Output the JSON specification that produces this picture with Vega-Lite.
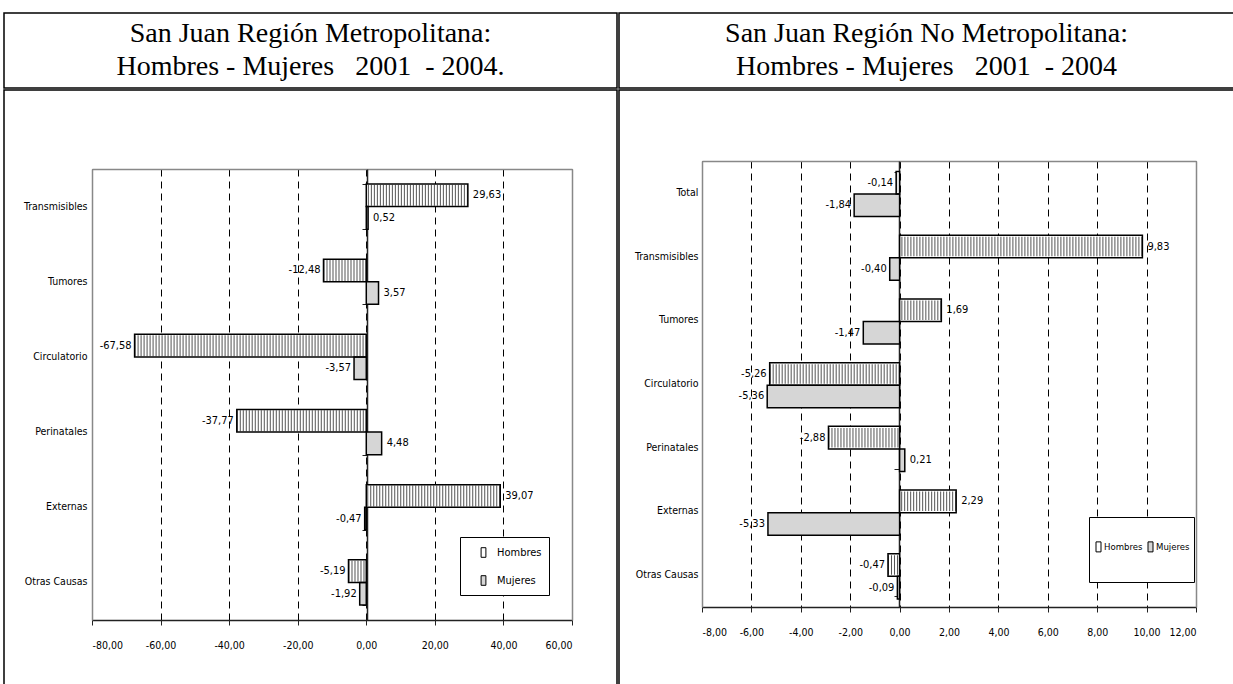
{
  "$schema": "https://vega.github.io/schema/vega-lite/v6.json",
  "padding": {"left": 3, "top": 12, "right": 0, "bottom": 0},
  "spacing": 0,
  "datasets": {
    "metro": [
      {"causa": "Transmisibles", "serie": "Hombres", "valor": 29.63},
      {"causa": "Transmisibles", "serie": "Mujeres", "valor": 0.52},
      {"causa": "Tumores", "serie": "Hombres", "valor": -12.48},
      {"causa": "Tumores", "serie": "Mujeres", "valor": 3.57},
      {"causa": "Circulatorio", "serie": "Hombres", "valor": -67.58},
      {"causa": "Circulatorio", "serie": "Mujeres", "valor": -3.57},
      {"causa": "Perinatales", "serie": "Hombres", "valor": -37.77},
      {"causa": "Perinatales", "serie": "Mujeres", "valor": 4.48},
      {"causa": "Externas", "serie": "Hombres", "valor": 39.07},
      {"causa": "Externas", "serie": "Mujeres", "valor": -0.47},
      {"causa": "Otras Causas", "serie": "Hombres", "valor": -5.19},
      {"causa": "Otras Causas", "serie": "Mujeres", "valor": -1.92}
    ],
    "nometro": [
      {"causa": "Total", "serie": "Hombres", "valor": -0.14},
      {"causa": "Total", "serie": "Mujeres", "valor": -1.84},
      {"causa": "Transmisibles", "serie": "Hombres", "valor": 9.83},
      {"causa": "Transmisibles", "serie": "Mujeres", "valor": -0.40},
      {"causa": "Tumores", "serie": "Hombres", "valor": 1.69},
      {"causa": "Tumores", "serie": "Mujeres", "valor": -1.47},
      {"causa": "Circulatorio", "serie": "Hombres", "valor": -5.26},
      {"causa": "Circulatorio", "serie": "Mujeres", "valor": -5.36},
      {"causa": "Perinatales", "serie": "Hombres", "valor": -2.88},
      {"causa": "Perinatales", "serie": "Mujeres", "valor": 0.21},
      {"causa": "Externas", "serie": "Hombres", "valor": 2.29},
      {"causa": "Externas", "serie": "Mujeres", "valor": -5.33},
      {"causa": "Otras Causas", "serie": "Hombres", "valor": -0.47},
      {"causa": "Otras Causas", "serie": "Mujeres", "valor": -0.09}
    ]
  },
  "resolve": {"scale": {"fill": "independent"}, "legend": {"fill": "independent"}},
  "vconcat": [
    {
      "spacing": 0,
      "hconcat": [
        {
          "width": 613, "height": 75,
          "data": {"values": [
            {"linea": 1, "texto": "San Juan Región Metropolitana:"},
            {"linea": 2, "texto": "Hombres - Mujeres\u00a0\u00a0\u00a02001\u00a0\u00a0- 2004."}
          ]},
          "mark": {"type": "text", "font": "Liberation Serif", "fontSize": 28, "baseline": "middle", "align": "center", "color": "black"},
          "encoding": {
            "y": {"field": "linea", "type": "ordinal", "axis": null, "scale": {"type": "point", "padding": 0.636}},
            "text": {"field": "texto", "type": "nominal"}
          }
        },
        {
          "width": 615, "height": 75,
          "data": {"values": [
            {"linea": 1, "texto": "San Juan Región No Metropolitana:"},
            {"linea": 2, "texto": "Hombres - Mujeres\u00a0\u00a0\u00a02001\u00a0\u00a0- 2004"}
          ]},
          "mark": {"type": "text", "font": "Liberation Serif", "fontSize": 28, "baseline": "middle", "align": "center", "color": "black"},
          "encoding": {
            "y": {"field": "linea", "type": "ordinal", "axis": null, "scale": {"type": "point", "padding": 0.636}},
            "text": {"field": "texto", "type": "nominal"}
          }
        }
      ]
    },
    {
      "spacing": 0,
      "resolve": {"scale": {"fill": "independent"}, "legend": {"fill": "independent"}},
      "hconcat": [
        {
          "width": 613, "height": 596,
          "data": {"name": "metro"},
          "resolve": {"axis": {"x": "independent", "y": "independent"}},
          "layer": [
            {
              "mark": {"type": "bar", "strokeWidth": 0},
              "encoding": {
                "y": {"field": "causa", "type": "nominal",
                  "scale": {"domain": ["Transmisibles", "Tumores", "Circulatorio", "Perinatales", "Externas", "Otras Causas"], "range": [79, 530], "paddingInner": 0.4, "paddingOuter": 0.2},
                  "axis": {"orient": "left", "offset": -88, "title": null, "ticks": false, "labelPadding": 5, "domainColor": "#888888", "domainWidth": 1.5, "grid": false}},
                "yOffset": {"field": "serie", "type": "nominal", "scale": {"domain": ["Hombres", "Mujeres"], "paddingInner": 0, "paddingOuter": 0}},
                "x": {"field": "valor", "type": "quantitative", "stack": null,
                  "scale": {"domain": [-80, 60], "range": [88, 568], "nice": false, "zero": false},
                  "axis": {"orient": "bottom", "offset": -66, "title": null, "values": [-80, -60, -40, -20, 0, 20, 40, 60], "format": ".2f", "grid": false, "domainColor": "#222222", "domainWidth": 1.5, "tickColor": "#222222", "tickSize": 5, "labelPadding": 15}},
                "fill": {"field": "serie", "type": "nominal",
                  "scale": {"domain": ["Hombres", "Mujeres"], "range": ["white", "#d6d6d6"]},
                  "legend": {"orient": "none", "legendX": 456, "legendY": 447, "direction": "vertical", "title": null, "padding": 7, "rowPadding": 12, "symbolOffset": 8, "labelOffset": 5}}
              }
            },
            {
              "transform": [{"filter": "datum.serie === 'Hombres'"}],
              "mark": {"type": "rule", "strokeDash": [1, 2], "strokeWidth": 21, "color": "#555555"},
              "encoding": {
                "y": {"field": "causa", "type": "nominal", "axis": null},
                "yOffset": {"field": "serie", "type": "nominal"},
                "x": {"field": "valor", "type": "quantitative", "axis": null},
                "x2": {"datum": 0}
              }
            },
            {
              "mark": {"type": "bar", "fill": "transparent", "stroke": "black", "strokeWidth": 1.5},
              "encoding": {
                "y": {"field": "causa", "type": "nominal",
                  "axis": {"orient": "left", "offset": -363, "title": null, "labels": false, "ticks": true, "tickBand": "extent", "tickSize": 5, "tickColor": "#222222", "domainColor": "#222222", "domainWidth": 1.5, "grid": false}},
                "yOffset": {"field": "serie", "type": "nominal"},
                "x": {"field": "valor", "type": "quantitative", "stack": null,
                  "axis": {"orient": "top", "offset": -79, "title": null, "values": [-80, -60, -40, -20, 0, 20, 40, 60], "ticks": false, "labels": false, "domainColor": "#888888", "domainWidth": 1.5, "grid": true, "gridDash": [7, 5], "gridColor": "black", "gridWidth": 1}}
              }
            },
            {
              "transform": [{"filter": "datum.valor >= 0"}],
              "mark": {"type": "text", "align": "left", "baseline": "middle", "dx": 5, "font": "DejaVu Sans Condensed, Liberation Sans, sans-serif", "fontSize": 11, "color": "black"},
              "encoding": {
                "y": {"field": "causa", "type": "nominal",
                  "axis": {"orient": "right", "offset": -45, "title": null, "ticks": false, "labels": false, "domainColor": "#888888", "domainWidth": 1.5, "grid": false}},
                "yOffset": {"field": "serie", "type": "nominal"},
                "x": {"field": "valor", "type": "quantitative", "axis": null},
                "text": {"field": "valor", "type": "quantitative", "format": ".2f"}
              }
            },
            {
              "transform": [{"filter": "datum.valor < 0"}],
              "mark": {"type": "text", "align": "right", "baseline": "middle", "dx": -3, "font": "DejaVu Sans Condensed, Liberation Sans, sans-serif", "fontSize": 11, "color": "black"},
              "encoding": {
                "y": {"field": "causa", "type": "nominal", "axis": null},
                "yOffset": {"field": "serie", "type": "nominal"},
                "x": {"field": "valor", "type": "quantitative", "axis": null},
                "text": {"field": "valor", "type": "quantitative", "format": ".2f"}
              }
            }
          ]
        },
        {
          "width": 615, "height": 596,
          "data": {"name": "nometro"},
          "resolve": {"axis": {"x": "independent", "y": "independent"}},
          "layer": [
            {
              "mark": {"type": "bar", "strokeWidth": 0},
              "encoding": {
                "y": {"field": "causa", "type": "nominal",
                  "scale": {"domain": ["Total", "Transmisibles", "Tumores", "Circulatorio", "Perinatales", "Externas", "Otras Causas"], "range": [71, 517], "paddingInner": 0.33, "paddingOuter": 0.165},
                  "axis": {"orient": "left", "offset": -83, "title": null, "ticks": false, "labelPadding": 4, "domainColor": "#888888", "domainWidth": 1.5, "grid": false}},
                "yOffset": {"field": "serie", "type": "nominal", "scale": {"domain": ["Hombres", "Mujeres"], "paddingInner": 0, "paddingOuter": 0}},
                "x": {"field": "valor", "type": "quantitative", "stack": null,
                  "scale": {"domain": [-8, 12], "range": [83, 577], "nice": false, "zero": false},
                  "axis": {"orient": "bottom", "offset": -79, "title": null, "values": [-8, -6, -4, -2, 0, 2, 4, 6, 8, 10, 12], "format": ".2f", "grid": false, "domainColor": "#222222", "domainWidth": 1.5, "tickColor": "#222222", "tickSize": 5, "labelPadding": 15}},
                "fill": {"field": "serie", "type": "nominal",
                  "scale": {"domain": ["Hombres", "Mujeres"], "range": ["white", "#d6d6d6"]},
                  "legend": {"orient": "none", "legendX": 470, "legendY": 427, "direction": "horizontal", "title": null, "padding": 4, "columnPadding": 2, "labelFontSize": 9.5,
                    "symbolType": "M-0.1,-0.2H0.1V0.2H-0.1ZM0,-1.15M0,1.15", "symbolSize": 2500, "symbolOffset": -20, "labelOffset": -20}}
              }
            },
            {
              "transform": [{"filter": "datum.serie === 'Hombres'"}],
              "mark": {"type": "rule", "strokeDash": [1, 2], "strokeWidth": 19.5, "color": "#555555"},
              "encoding": {
                "y": {"field": "causa", "type": "nominal", "axis": null},
                "yOffset": {"field": "serie", "type": "nominal"},
                "x": {"field": "valor", "type": "quantitative", "axis": null},
                "x2": {"datum": 0}
              }
            },
            {
              "mark": {"type": "bar", "fill": "transparent", "stroke": "black", "strokeWidth": 1.5},
              "encoding": {
                "y": {"field": "causa", "type": "nominal",
                  "axis": {"orient": "left", "offset": -280, "title": null, "labels": false, "ticks": true, "tickBand": "extent", "tickSize": 5, "tickColor": "#222222", "domainColor": "#222222", "domainWidth": 1.5, "grid": false}},
                "yOffset": {"field": "serie", "type": "nominal"},
                "x": {"field": "valor", "type": "quantitative", "stack": null,
                  "axis": {"orient": "top", "offset": -71, "title": null, "values": [-8, -6, -4, -2, 0, 2, 4, 6, 8, 10, 12], "ticks": false, "labels": false, "domainColor": "#888888", "domainWidth": 1.5, "grid": true, "gridDash": [7, 5], "gridColor": "black", "gridWidth": 1}}
              }
            },
            {
              "transform": [{"filter": "datum.valor >= 0"}],
              "mark": {"type": "text", "align": "left", "baseline": "middle", "dx": 5, "font": "DejaVu Sans Condensed, Liberation Sans, sans-serif", "fontSize": 11, "color": "black"},
              "encoding": {
                "y": {"field": "causa", "type": "nominal",
                  "axis": {"orient": "right", "offset": -38, "title": null, "ticks": false, "labels": false, "domainColor": "#888888", "domainWidth": 1.5, "grid": false}},
                "yOffset": {"field": "serie", "type": "nominal"},
                "x": {"field": "valor", "type": "quantitative", "axis": null},
                "text": {"field": "valor", "type": "quantitative", "format": ".2f"}
              }
            },
            {
              "transform": [{"filter": "datum.valor < 0"}],
              "mark": {"type": "text", "align": "right", "baseline": "middle", "dx": -3, "font": "DejaVu Sans Condensed, Liberation Sans, sans-serif", "fontSize": 11, "color": "black"},
              "encoding": {
                "y": {"field": "causa", "type": "nominal", "axis": null},
                "yOffset": {"field": "serie", "type": "nominal"},
                "x": {"field": "valor", "type": "quantitative", "axis": null},
                "text": {"field": "valor", "type": "quantitative", "format": ".2f"}
              }
            }
          ]
        }
      ]
    }
  ],
  "config": {
    "locale": {"number": {"decimal": ",", "thousands": ".", "grouping": [3], "currency": ["", " €"], "minus": "-"}},
    "view": {"stroke": "black", "strokeWidth": 1.5},
    "axis": {"labelFont": "DejaVu Sans Condensed, Liberation Sans, sans-serif", "labelFontSize": 10.5, "labelColor": "black"},
    "legend": {
      "strokeColor": "black", "fillColor": "white",
      "labelFont": "DejaVu Sans Condensed, Liberation Sans, sans-serif", "labelFontSize": 11, "labelColor": "black", "labelOffset": 2,
      "symbolType": "M-0.3,-0.6H0.3V0.6H-0.3Z", "symbolSize": 256,
      "symbolStrokeColor": "black", "symbolStrokeWidth": 1
    }
  }
}
